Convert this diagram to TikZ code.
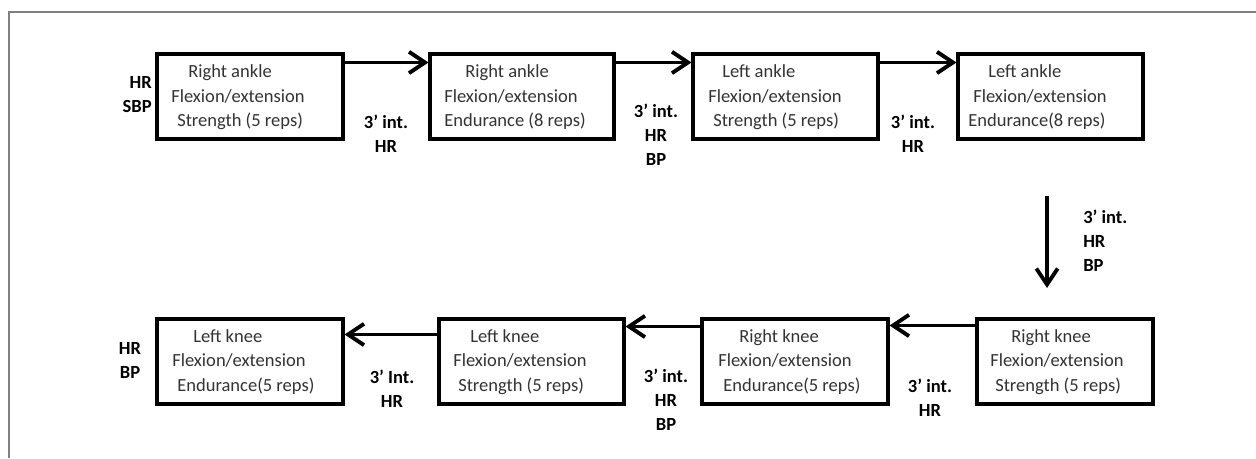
\documentclass[tikz,border=0pt]{standalone}
\usepackage{fontspec}
\setmainfont{Carlito}
\usetikzlibrary{arrows.meta}
\definecolor{txtgray}{HTML}{333333}
\definecolor{framegray}{HTML}{808080}
\begin{document}
\begin{tikzpicture}[x=0.75pt,y=-0.75pt,
  box/.style={draw, line width=2.3pt, minimum height={85*0.75pt}, inner sep=0pt},
  boxtxt/.style={anchor=west, align=left, inner sep=0pt, text=txtgray,
    font=\fontsize{13.9}{18.4}\selectfont},
  lbl/.style={align=center, inner sep=0pt, font=\fontsize{13.9}{18}\selectfont\bfseries},
  arr/.style={line width=2.9pt, -{Straight Barb[length=12pt, width=16pt, line width=2.9pt]}},
  frame/.style={draw=framegray, line width=1.1pt}]
\useasboundingbox (0,0) rectangle (1256,458);
\coordinate (fr1) at (1256,12);
\coordinate (fr2) at (9,12);
\coordinate (fr3) at (9,458);
\draw[frame] (fr1) -- (fr2) -- (fr3);

% top row boxes
\node[box, minimum width={186*0.75pt}] (B1) at (250,96.5) {};
\node[box, minimum width={184*0.75pt}] (B2) at (522,96.5) {};
\node[box, minimum width={185*0.75pt}] (B3) at (785.5,96.5) {};
\node[box, minimum width={185*0.75pt}] (B4) at (1050.5,96.5) {};
% bottom row boxes
\node[box, minimum width={176*0.75pt}] (B8) at (1065,361.5) {};
\node[box, minimum width={186*0.75pt}] (B7) at (795,361.5) {};
\node[box, minimum width={185*0.75pt}] (B6) at (531.5,361.5) {};
\node[box, minimum width={186*0.75pt}] (B5) at (250,361.5) {};

% box texts
\node[boxtxt] (T1) at (171,97.5) {\hspace{12.75pt}Right ankle\\Flexion/extension\\\hspace{4.5pt}Strength (5 reps)};
\node[boxtxt] (T2) at (444,97.5) {\hspace{15.75pt}Right ankle\\Flexion/extension\\Endurance (8 reps)};
\node[boxtxt] (T3) at (708,97.5) {\hspace{10.5pt}Left ankle\\Flexion/extension\\\hspace{3.75pt}Strength (5 reps)};
\node[boxtxt] (T4) at (968,97.5) {\hspace{15pt}Left ankle\\\hspace{3.75pt}Flexion/extension\\Endurance(8 reps)};
\node[boxtxt] (T5) at (172,362) {\hspace{15.75pt}Left knee\\Flexion/extension\\\hspace{3.75pt}Endurance(5 reps)};
\node[boxtxt] (T6) at (453,362) {\hspace{12.75pt}Left knee\\Flexion/extension\\\hspace{3.75pt}Strength (5 reps)};
\node[boxtxt] (T7) at (718,362) {\hspace{15.75pt}Right knee\\Flexion/extension\\\hspace{3.75pt}Endurance(5 reps)};
\node[boxtxt] (T8) at (990,362) {\hspace{15.75pt}Right knee\\Flexion/extension\\\hspace{3.75pt}Strength (5 reps)};

% connectors
\draw[arr] ([yshift=-7.5pt]B1.north east) -- ([yshift=-7.5pt]B2.north west);
\draw[arr] ([yshift=-7.5pt]B2.north east) -- ([yshift=-7.5pt]B3.north west);
\draw[arr] ([yshift=-7.5pt]B3.north east) -- ([yshift=-7.5pt]B4.north west);
\coordinate (V1) at (1047,196);
\coordinate (V2) at (1047,288);
\draw[arr] (V1) -- (V2);
\draw[arr] ([yshift=-6pt]B8.north west) -- ([yshift=-6pt]B7.north east);
\draw[arr] ([yshift=-6.75pt]B7.north west) -- ([yshift=-6.75pt]B6.north east);
\draw[arr] ([yshift=-12.75pt]B6.north west) -- ([yshift=-12.75pt]B5.north east);

% labels
\node[lbl, align=right, anchor=east] (L0) at (152,95) {HR\\SBP};
\node[lbl] (L1) at (386,134) {3’ int.\\HR};
\node[lbl] (L2) at (656,135) {3’ int.\\HR\\BP};
\node[lbl] (L3) at (913,134) {3’ int.\\HR};
\node[lbl, align=left, anchor=west] (LV) at (1083,241) {3’ int.\\HR\\BP};
\node[lbl] (L9) at (130,360.5) {HR\\BP};
\node[lbl] (L4) at (392,388.5) {3’ Int.\\HR};
\node[lbl] (L5) at (666,400) {3’ int.\\HR\\BP};
\node[lbl] (L6) at (930,398) {3’ int.\\HR};
\end{tikzpicture}
\end{document}
